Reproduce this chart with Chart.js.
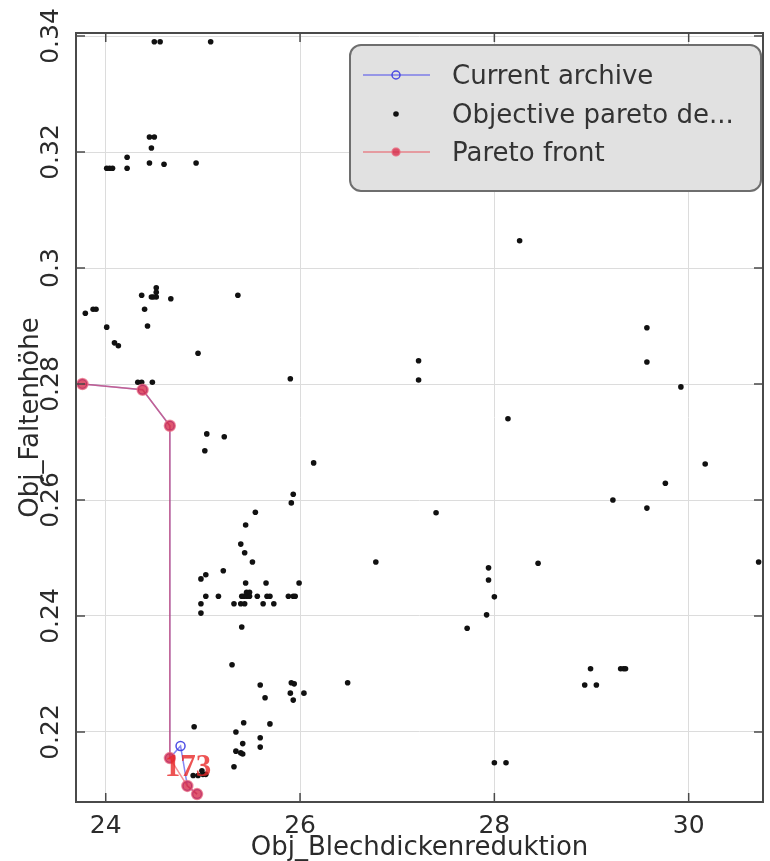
<!DOCTYPE html>
<html>
<head>
<meta charset="utf-8">
<script src="https://cdn.jsdelivr.net/npm/chart.js@4.4.1/dist/chart.umd.min.js"></script>
<style>
    html, body { margin: 0; padding: 0; background: #ffffff; }
    canvas { display: block; }
</style>
</head>
<body>
<canvas id="paretoChart" width="770" height="861"></canvas>
<script>
// Data
const archiveX = [23.76, 24.38, 24.66, 24.66, 24.77, 24.84, 24.94];
const archiveY = [0.2800, 0.2790, 0.2728, 0.2155, 0.2176, 0.2107, 0.2093];

const frontX = [23.76, 24.38, 24.66, 24.66, 24.84, 24.94];
const frontY = [0.2800, 0.2790, 0.2728, 0.2155, 0.2107, 0.2093];

const designX = [
    24.50, 24.56, 25.08,
    24.45, 24.50, 24.47, 24.22, 24.45, 24.60, 24.93, 24.01, 24.04, 24.07, 24.22,
    28.26,
    24.37, 24.52, 24.52, 24.52, 24.47, 24.49, 24.67, 25.36, 24.40,
    23.79, 23.87, 23.90, 24.01, 24.43, 24.09, 24.13, 24.95,
    29.57, 29.57, 27.22, 27.22, 24.33, 24.37, 24.48, 25.90, 29.92, 28.14,
    25.04, 25.22, 25.02, 26.14, 30.17, 29.76, 25.93, 25.91, 29.22, 29.57,
    25.54, 27.40, 25.44, 25.39, 25.43, 25.51, 30.72, 28.45, 26.78, 27.94, 27.94,
    25.21, 24.98, 25.03, 25.44, 25.65, 25.99,
    25.03, 25.16, 25.40, 25.42, 25.45, 25.48, 25.56, 25.66, 25.69, 25.88, 25.93, 25.95,
    28.00, 25.45, 25.48,
    24.98, 25.32, 25.39, 25.43, 25.62, 25.73,
    24.98, 27.92, 25.40, 27.72, 25.30,
    28.99, 29.30, 29.33, 29.35, 25.59, 25.91, 25.94, 26.49, 28.93, 29.05,
    25.64, 25.90, 26.04, 25.93,
    25.42, 25.69, 24.91, 25.34, 25.59, 25.41, 25.59, 25.34, 25.39, 25.41, 25.32,
    28.00, 28.12,
    24.90, 24.95, 25.00, 25.03, 24.99
];
const designY = [
    0.3390, 0.3390, 0.3390,
    0.3226, 0.3226, 0.3207, 0.3191, 0.3181, 0.3179, 0.3181, 0.3172, 0.3172, 0.3172, 0.3172,
    0.3047,
    0.2953, 0.2966, 0.2958, 0.2950, 0.2950, 0.2950, 0.2947, 0.2953, 0.2929,
    0.2922, 0.2929, 0.2929, 0.2898, 0.2900, 0.2871, 0.2866, 0.2853,
    0.2897, 0.2838, 0.2840, 0.2807, 0.2803, 0.2803, 0.2803, 0.2809, 0.2795, 0.2740,
    0.2714, 0.2709, 0.2685, 0.2664, 0.2662, 0.2629, 0.2610, 0.2595, 0.2600, 0.2586,
    0.2579, 0.2578, 0.2557, 0.2524, 0.2509, 0.2493, 0.2493, 0.2491, 0.2493, 0.2483, 0.2462,
    0.2478, 0.2464, 0.2471, 0.2457, 0.2457, 0.2457,
    0.2434, 0.2434, 0.2434, 0.2434, 0.2434, 0.2434, 0.2434, 0.2434, 0.2434, 0.2434, 0.2434, 0.2434,
    0.2433, 0.2441, 0.2441,
    0.2421, 0.2421, 0.2421, 0.2421, 0.2421, 0.2421,
    0.2405, 0.2402, 0.2381, 0.2379, 0.2316,
    0.2309, 0.2309, 0.2309, 0.2309, 0.2281, 0.2285, 0.2283, 0.2285, 0.2281, 0.2281,
    0.2259, 0.2267, 0.2267, 0.2255,
    0.2216, 0.2214, 0.2209, 0.2200, 0.2190, 0.2180, 0.2174, 0.2167, 0.2164, 0.2162, 0.2140,
    0.2147, 0.2147,
    0.2125, 0.2125, 0.2127, 0.2127, 0.2133
];

const xTicks = [24, 26, 28, 30];
const yTicks = [0.22, 0.24, 0.26, 0.28, 0.30, 0.32, 0.34];
const xLabel = 'Obj_Blechdickenreduktion';
const yLabel = 'Obj_Faltenhöhe';
const tagText = '173';
const tagIndex = 3; // điểm của front mang nhãn "173"

const fontName = "'DejaVu Sans', Verdana, sans-serif";
const frameColor = '#4a4a4a';

function toPoints(xs, ys) {
    return xs.map((x, i) => ({ x: x, y: ys[i] }));
}

function fmt(v) {
    return String(Number(v.toFixed(2)));
}

// Khung, vạch chia hướng vào trong, nhãn trục và chú giải
const framePlugin = {
    id: 'frame',
    afterDatasetsDraw(chart) {
        const ctx = chart.ctx;
        const a = chart.chartArea;
        const xs = chart.scales.x;
        const ys = chart.scales.y;

        ctx.save();
        ctx.strokeStyle = frameColor;
        ctx.lineWidth = 2;
        ctx.strokeRect(a.left, a.top, a.right - a.left, a.bottom - a.top);

        ctx.lineWidth = 1.5;
        ctx.beginPath();
        xTicks.forEach(v => {
            const px = xs.getPixelForValue(v);
            ctx.moveTo(px, a.bottom);
            ctx.lineTo(px, a.bottom - 9);
            ctx.moveTo(px, a.top);
            ctx.lineTo(px, a.top + 9);
        });
        yTicks.forEach(v => {
            const py = ys.getPixelForValue(v);
            ctx.moveTo(a.left, py);
            ctx.lineTo(a.left + 9, py);
            ctx.moveTo(a.right, py);
            ctx.lineTo(a.right - 9, py);
        });
        ctx.stroke();

        // nhãn "173"
        const tx = xs.getPixelForValue(frontX[tagIndex]);
        const ty = ys.getPixelForValue(frontY[tagIndex]);
        ctx.font = "bold 31px 'Liberation Serif', serif";
        ctx.fillStyle = 'rgba(232, 40, 40, 0.8)';
        ctx.textAlign = 'left';
        ctx.textBaseline = 'alphabetic';
        ctx.fillText(tagText, tx - 5, ty + 18);
        ctx.restore();
    },
    afterDraw(chart) {
        const ctx = chart.ctx;
        const a = chart.chartArea;
        const ys = chart.scales.y;

        ctx.save();
        ctx.fillStyle = '#2b2b2b';

        // nhãn trục y xoay dọc
        ctx.font = '25px ' + fontName;
        ctx.textAlign = 'center';
        ctx.textBaseline = 'middle';
        yTicks.forEach(v => {
            const py = ys.getPixelForValue(v);
            ctx.save();
            ctx.translate(51, py);
            ctx.rotate(-Math.PI / 2);
            ctx.fillText(fmt(v), 0, 0);
            ctx.restore();
        });

        // tiêu đề trục
        ctx.font = '26px ' + fontName;
        ctx.save();
        ctx.translate(31, (a.top + a.bottom) / 2);
        ctx.rotate(-Math.PI / 2);
        ctx.fillText(yLabel, 0, 0);
        ctx.restore();
        ctx.textBaseline = 'alphabetic';
        ctx.fillText(xLabel, (a.left + a.right) / 2, 855);

        // chú giải
        const box = { x: 350, y: 45, w: 411, h: 146, r: 11 };
        ctx.beginPath();
        ctx.roundRect(box.x, box.y, box.w, box.h, box.r);
        ctx.fillStyle = '#e1e1e1';
        ctx.fill();
        ctx.strokeStyle = '#6e6e6e';
        ctx.lineWidth = 2;
        ctx.stroke();

        const rows = [75, 114, 152];
        const ds = chart.data.datasets;
        ds.forEach((d, i) => {
            const y = rows[i];
            if (d.showLine) {
                ctx.strokeStyle = d.borderColor;
                ctx.lineWidth = 1.5;
                ctx.beginPath();
                ctx.moveTo(363, y);
                ctx.lineTo(430, y);
                ctx.stroke();
            }
            ctx.beginPath();
            ctx.arc(396, y, Math.min(d.pointRadius, 4), 0, Math.PI * 2);
            ctx.fillStyle = d.pointBackgroundColor;
            ctx.fill();
            if (d.pointBorderWidth > 0) {
                ctx.strokeStyle = d.pointBorderColor;
                ctx.lineWidth = d.pointBorderWidth;
                ctx.stroke();
            }
            ctx.fillStyle = '#333333';
            ctx.font = '26px ' + fontName;
            ctx.textAlign = 'left';
            ctx.textBaseline = 'middle';
            ctx.fillText(d.label, 452, y + 2);
        });
        ctx.restore();
    }
};

const ctx = document.getElementById('paretoChart').getContext('2d');

const paretoChart = new Chart(ctx, {
    type: 'scatter',
    data: {
        datasets: [
            {
                label: 'Current archive',
                data: toPoints(archiveX, archiveY),
                showLine: true,
                borderColor: 'rgba(70, 70, 235, 0.65)',
                borderWidth: 1.5,
                pointRadius: 4.5,
                pointBackgroundColor: 'rgba(255, 255, 255, 0)',
                pointBorderColor: 'rgba(60, 60, 225, 0.9)',
                pointBorderWidth: 1.5,
                order: 1
            },
            {
                label: 'Objective pareto de...',
                data: toPoints(designX, designY),
                showLine: false,
                pointRadius: 2.8,
                pointBackgroundColor: '#111111',
                pointBorderColor: '#111111',
                pointBorderWidth: 0,
                order: 2
            },
            {
                label: 'Pareto front',
                data: toPoints(frontX, frontY),
                showLine: true,
                borderColor: 'rgba(235, 70, 80, 0.6)',
                borderWidth: 1.5,
                pointRadius: 5.5,
                pointBackgroundColor: 'rgba(215, 45, 75, 0.8)',
                pointBorderColor: 'rgba(235, 110, 130, 0.7)',
                pointBorderWidth: 1.5,
                order: 0
            }
        ]
    },
    options: {
        responsive: false,
        animation: false,
        devicePixelRatio: 1,
        layout: { padding: { top: 33, right: 1, left: 0, bottom: 0 } },
        plugins: {
            legend: { display: false },
            tooltip: { enabled: false }
        },
        scales: {
            x: {
                type: 'linear',
                min: 23.694,
                max: 30.765,
                afterBuildTicks: scale => { scale.ticks = xTicks.map(v => ({ value: v })); },
                afterFit: scale => { scale.height = 59; },
                grid: { color: '#dcdcdc', lineWidth: 1, drawTicks: false },
                border: { display: false },
                ticks: {
                    padding: 9,
                    color: '#2b2b2b',
                    font: { family: fontName, size: 25 },
                    callback: v => fmt(v)
                }
            },
            y: {
                type: 'linear',
                min: 0.20793,
                max: 0.34052,
                afterBuildTicks: scale => { scale.ticks = yTicks.map(v => ({ value: v })); },
                afterFit: scale => { scale.width = 76; },
                grid: { color: '#dcdcdc', lineWidth: 1, drawTicks: false },
                border: { display: false },
                ticks: { display: false }
            }
        }
    },
    plugins: [framePlugin]
});
</script>
</body>
</html>
